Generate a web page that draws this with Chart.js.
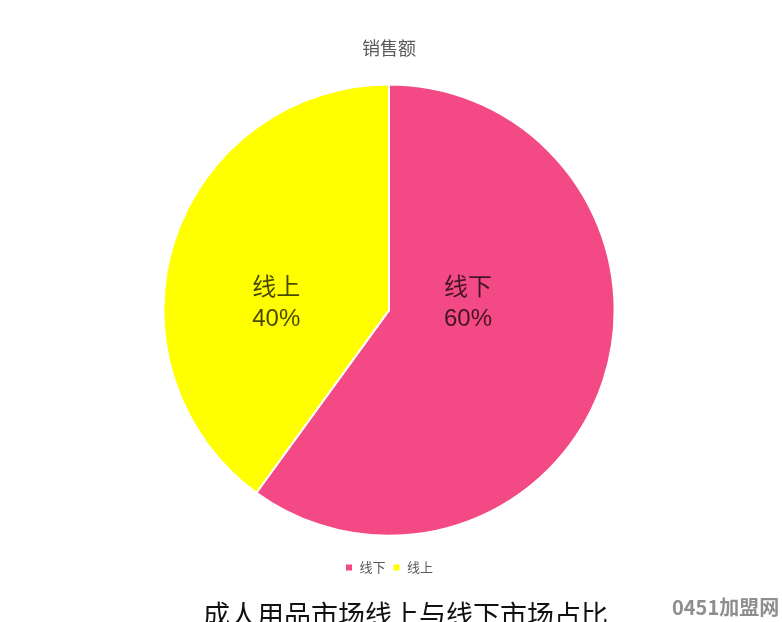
<!DOCTYPE html>
<html lang="zh">
<head>
  <meta charset="UTF-8">
  <title>销售额</title>
  <script src="https://cdn.jsdelivr.net/npm/chart.js"></script>
  <style>
    body {
      margin: 0;
      background: #fff;
      overflow: hidden;
    }
    .wrap {
      position: relative;
      width: 782px;
      height: 622px;
    }
    .caption {
      position: absolute;
      left: 203px;
      top: 600px;
      font-family: 'Noto Sans CJK SC', serif;
      font-size: 27px;
      line-height: 1;
      color: #111;
      white-space: nowrap;
    }
    .mark {
      position: absolute;
      left: 672px;
      top: 597px;
      font-family: 'Noto Sans CJK SC', 'DejaVu Sans', sans-serif;
      font-weight: bold;
      font-size: 20px;
      line-height: 1;
      color: #8e8e8e;
      white-space: nowrap;
    }
  </style>
</head>
<body>
  <div class="wrap">
    <canvas id="pie" width="782" height="622"></canvas>
    <div class="caption">成人用品市场线上与线下市场占比</div>
    <div class="mark">0451加盟网</div>
  </div>

  <script>
    const labels = ['线下', '线上'];
    const values = [60, 40];
    const colors = ['#F34A85', '#FFFF00'];

    // slice labels: name on one line, percent below
    const sliceLabels = {
      id: 'sliceLabels',
      afterDatasetsDraw(chart) {
        const ctx = chart.ctx;
        const arcs = chart.getDatasetMeta(0).data;
        const total = values.reduce((a, b) => a + b, 0);
        const shift = [0.35, 0.5];
        arcs.forEach((arc, i) => {
          const mid = (arc.startAngle + arc.endAngle) / 2;
          const dir = Math.cos(mid) >= 0 ? 1 : -1;
          const x = arc.x + dir * arc.outerRadius * shift[i];
          const y = arc.y - 8;
          ctx.save();
          ctx.fillStyle = 'rgba(0,0,0,0.72)';
          ctx.textAlign = 'center';
          ctx.textBaseline = 'middle';
          ctx.font = '24px "Noto Sans CJK SC", sans-serif';
          ctx.fillText(labels[i], x, y - 16);
          ctx.font = '24px "Liberation Sans", Arial, sans-serif';
          ctx.fillText(Math.round(values[i] / total * 100) + '%', x, y + 17);
          ctx.restore();
        });
      }
    };

    new Chart(document.getElementById('pie').getContext('2d'), {
      type: 'pie',
      data: {
        labels: labels,
        datasets: [{
          data: values,
          backgroundColor: colors,
          borderColor: '#ffffff',
          borderWidth: 2
        }]
      },
      options: {
        responsive: false,
        animation: false,
        layout: { padding: { right: 4, bottom: 38 } },
        plugins: {
          title: {
            display: true,
            text: '销售额',
            color: '#595959',
            font: { family: '"Noto Sans CJK SC", sans-serif', size: 18, weight: 'normal' },
            padding: { top: 37, bottom: 25 }
          },
          legend: {
            position: 'bottom',
            title: {
              display: true,
              text: ' ',
              font: { size: 1 },
              padding: { top: 16, bottom: 0 }
            },
            labels: {
              boxWidth: 8,
              boxHeight: 8,
              padding: 7,
              color: '#595959',
              font: { family: '"Noto Sans CJK SC", sans-serif', size: 13 }
            }
          },
          tooltip: { enabled: false }
        }
      },
      plugins: [sliceLabels]
    });
  </script>
</body>
</html>
